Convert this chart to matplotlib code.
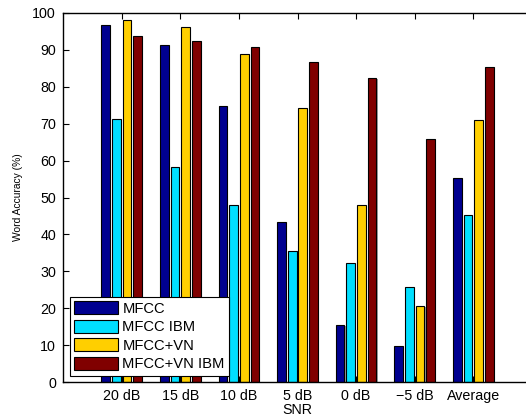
import numpy as np
import matplotlib
matplotlib.use("Agg")
import matplotlib.pyplot as plt
import matplotlib.patheffects as pe

plt.rcParams['font.family'] = ['Liberation Sans', 'DejaVu Sans']

categories = ['20 dB', '15 dB', '10 dB', '5 dB', '0 dB', '\u22125 dB', 'Average']
series_names = ['MFCC', 'MFCC IBM', 'MFCC+VN', 'MFCC+VN IBM']
mfcc = [96.7, 91.2, 74.7, 43.4, 15.4, 9.8, 55.2]
mfcc_ibm = [71.2, 58.2, 47.9, 35.6, 32.3, 25.7, 45.3]
mfcc_vn = [98.0, 96.2, 89.0, 74.2, 48.0, 20.5, 70.9]
mfcc_vn_ibm = [93.7, 92.3, 90.7, 86.8, 82.3, 65.9, 85.4]
colors = ['#000090', '#00DFFF', '#FFCF00', '#800000']

W, H, DPI = 526, 420, 100
fig = plt.figure(figsize=(W / DPI, H / DPI), dpi=DPI)
ax = fig.add_axes([63 / W, 1 - 382 / H, 469 / W, 369 / H])

x = np.arange(1, len(categories) + 1)
slot = 0.182
bw = 0.148
shadow = [pe.SimplePatchShadow(offset=(0.8, -0.6), shadow_rgbFace='0.45', alpha=0.7), pe.Normal()]
for i, (vals, name, c) in enumerate(zip([mfcc, mfcc_ibm, mfcc_vn, mfcc_vn_ibm], series_names, colors)):
    bars = ax.bar(x + (i - 1.5) * slot, vals, width=bw, color=c, edgecolor='black',
                  linewidth=0.8, label=name, zorder=2)
    for b in bars:
        b.set_path_effects(shadow)

ax.set_xlim(0, 8)
ax.set_ylim(0, 100)
ax.set_xticks(x)
ax.set_xticklabels(categories)
ax.set_yticks(np.arange(0, 101, 10))
ax.tick_params(direction='in', length=4, width=0.8, labelsize=10.3, top=True, right=True, pad=5)
for s in ax.spines.values():
    s.set_linewidth(1.0)
ax.set_xlabel('SNR', fontsize=10.3, labelpad=0)
ax.set_ylabel('Word Accuracy (%)', fontsize=7.4, labelpad=7)

leg = ax.legend(loc='lower left', bbox_to_anchor=(70 / W, 1 - 375.7 / H),
                bbox_transform=fig.transFigure, fontsize=10.6, frameon=True, fancybox=False,
                edgecolor='black', framealpha=1, borderaxespad=0, borderpad=0.3,
                handlelength=2.95, handleheight=0.95, labelspacing=0.28, handletextpad=0.3)
leg.get_frame().set_linewidth(0.8)

fig.savefig('out.png', dpi=DPI)
